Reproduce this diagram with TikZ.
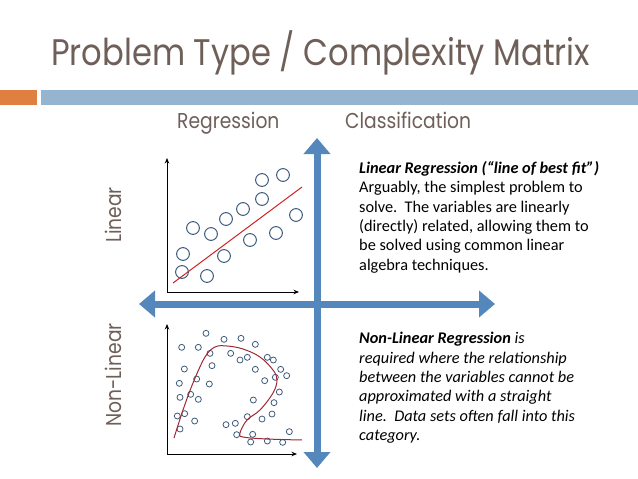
\documentclass[tikz,border=0pt]{standalone}
\usepackage{fontspec}
\usepackage{tikz}
\usetikzlibrary{arrows.meta,positioning}
\newfontfamily\headfont[FakeStretch=0.87]{Poppins}
\newfontfamily\notefont{Carlito}
\definecolor{titlecol}{RGB}{110,95,88}
\definecolor{barblue}{RGB}{148,180,208}
\definecolor{barorange}{RGB}{224,128,64}
\definecolor{arrowblue}{RGB}{84,136,188}
\definecolor{dotcol}{RGB}{62,92,124}
\definecolor{fitred}{RGB}{204,36,36}
\definecolor{curvered}{RGB}{160,40,52}
\tikzset{
  % headings
  title/.style={font=\headfont\fontsize{37}{42}\selectfont,text=titlecol,inner sep=0pt},
  colhead/.style={font=\headfont\fontsize{21.5}{24}\selectfont,text=titlecol,inner sep=0pt},
  rowhead/.style={colhead,rotate=90},
  % the two big block arrows
  blockarrow/.style={line width=7pt,arrowblue,
    {Triangle[length=16pt,width=26pt]}-{Triangle[length=16pt,width=26pt]}},
  % plots
  axis/.style={line width=0.9pt,black,-{Stealth[length=5.5pt,width=4.5pt]}},
  dotbig/.style={draw=dotcol,line width=1pt,fill=white},
  dotsmall/.style={draw=dotcol,line width=0.8pt,fill=white},
  fitline/.style={fitred,line width=1pt},
  fitcurve/.style={curvered,line width=1pt},
  % side notes
  note/.style={font=\notefont\fontsize{16.3}{19.4}\selectfont,align=left,
    inner sep=0pt,anchor=north west},
}
\begin{document}
\begin{tikzpicture}[x=1pt,y=-1pt]
\useasboundingbox (0,0) rectangle (638,479);

%% ---- title and bars ----
\node[title,anchor=base west] (ttl) at (51,65) {Problem Type / Complexity Matrix};
\fill[barorange] (0,90) rectangle (37,105);
\fill[barblue] (41,90) rectangle (638,105);

%% ---- column / row headings ----
\node[colhead,anchor=base west] (hreg) at (177,128) {Regression};
\node[colhead,anchor=base west] (hcls) at (345,128) {Classification};
\node[rowhead,anchor=base] (hlin) at (121,215) {Linear};
\node[rowhead,anchor=base] (hnon) at (121,375) {Non-Linear};

%% ---- quadrant arrows ----
\coordinate (vt) at (317,138);
\coordinate (vb) at (317,468);
\coordinate (hl) at (139,304);
\coordinate (hr) at (495,304);
\draw[blockarrow] (hl) -- (hr);
\draw[blockarrow] (vb) -- (vt);

%% ---- linear plot ----
\coordinate (o1) at (167,292);
\coordinate (y1) at (167,158);
\coordinate (x1) at (299,292);
\draw[axis] (o1) -- (y1);
\draw[axis] (o1) -- (x1);
\foreach \px/\py in {182/272,183/254,193/228,207/276,211/234,224/256,226/219,
    243/209,250/240,262/180,262/199,276/233,283/175,296/215}
  \draw[dotbig] (\px,\py) circle[radius=6.4];
\coordinate (f1) at (173,283);
\coordinate (f2) at (302,187);
\draw[fitline] (f1) -- (f2);

%% ---- non-linear plot ----
\coordinate (o2) at (167,454);
\coordinate (y2) at (167,324);
\coordinate (x2) at (297,454);
\draw[axis] (o2) -- (y2);
\draw[axis] (o2) -- (x2);
\foreach \zx/\zy in {168/70,95/112,145/112,222/88,273/85,316/103,180/130,242/130,
    270/150,292/142,352/142,370/150,103/177,186/167,316/178,392/178,410/197,
    376/202,344/212,88/220,140/207,178/222,388/246,90/262,122/253,145/268,
    372/278,310/270,366/312,82/318,104/311,134/333,228/344,256/340,292/320,
    336/327,90/357,260/374,308/373,418/365,302/396,352/393,398/397}
  \draw[dotsmall] ({150+\zx/3},{310+\zy/3}) circle[radius=3];
\draw[fitcurve] plot[smooth,tension=0.6] coordinates {
  (174,438) (183,410) (193,383) (205,357) (215,347) (227,346) (243,349)
  (260,357) (273,370) (277,380) (273,393) (260,410) (247,420) (240,433)
  (243,437) (267,439) (302,440)};

%% ---- notes ----
\node[note] (nlin) at (359,161) {%
  \textbf{\textit{Linear Regression (“line of best fit”)}}\\
  Arguably, the simplest problem to\\
  solve.\ \ The variables are linearly\\
  (directly) related, allowing them to\\
  be solved using common linear\\
  algebra techniques.};
\node[note] (nnon) at (359,332) {%
  \textbf{\textit{Non-Linear Regression}} \textit{is}\\
  \textit{required where the relationship}\\
  \textit{between the variables cannot be}\\
  \textit{approximated with a straight}\\
  \textit{line.\ \ Data sets often fall into this}\\
  \textit{category.}};
\end{tikzpicture}
\end{document}
